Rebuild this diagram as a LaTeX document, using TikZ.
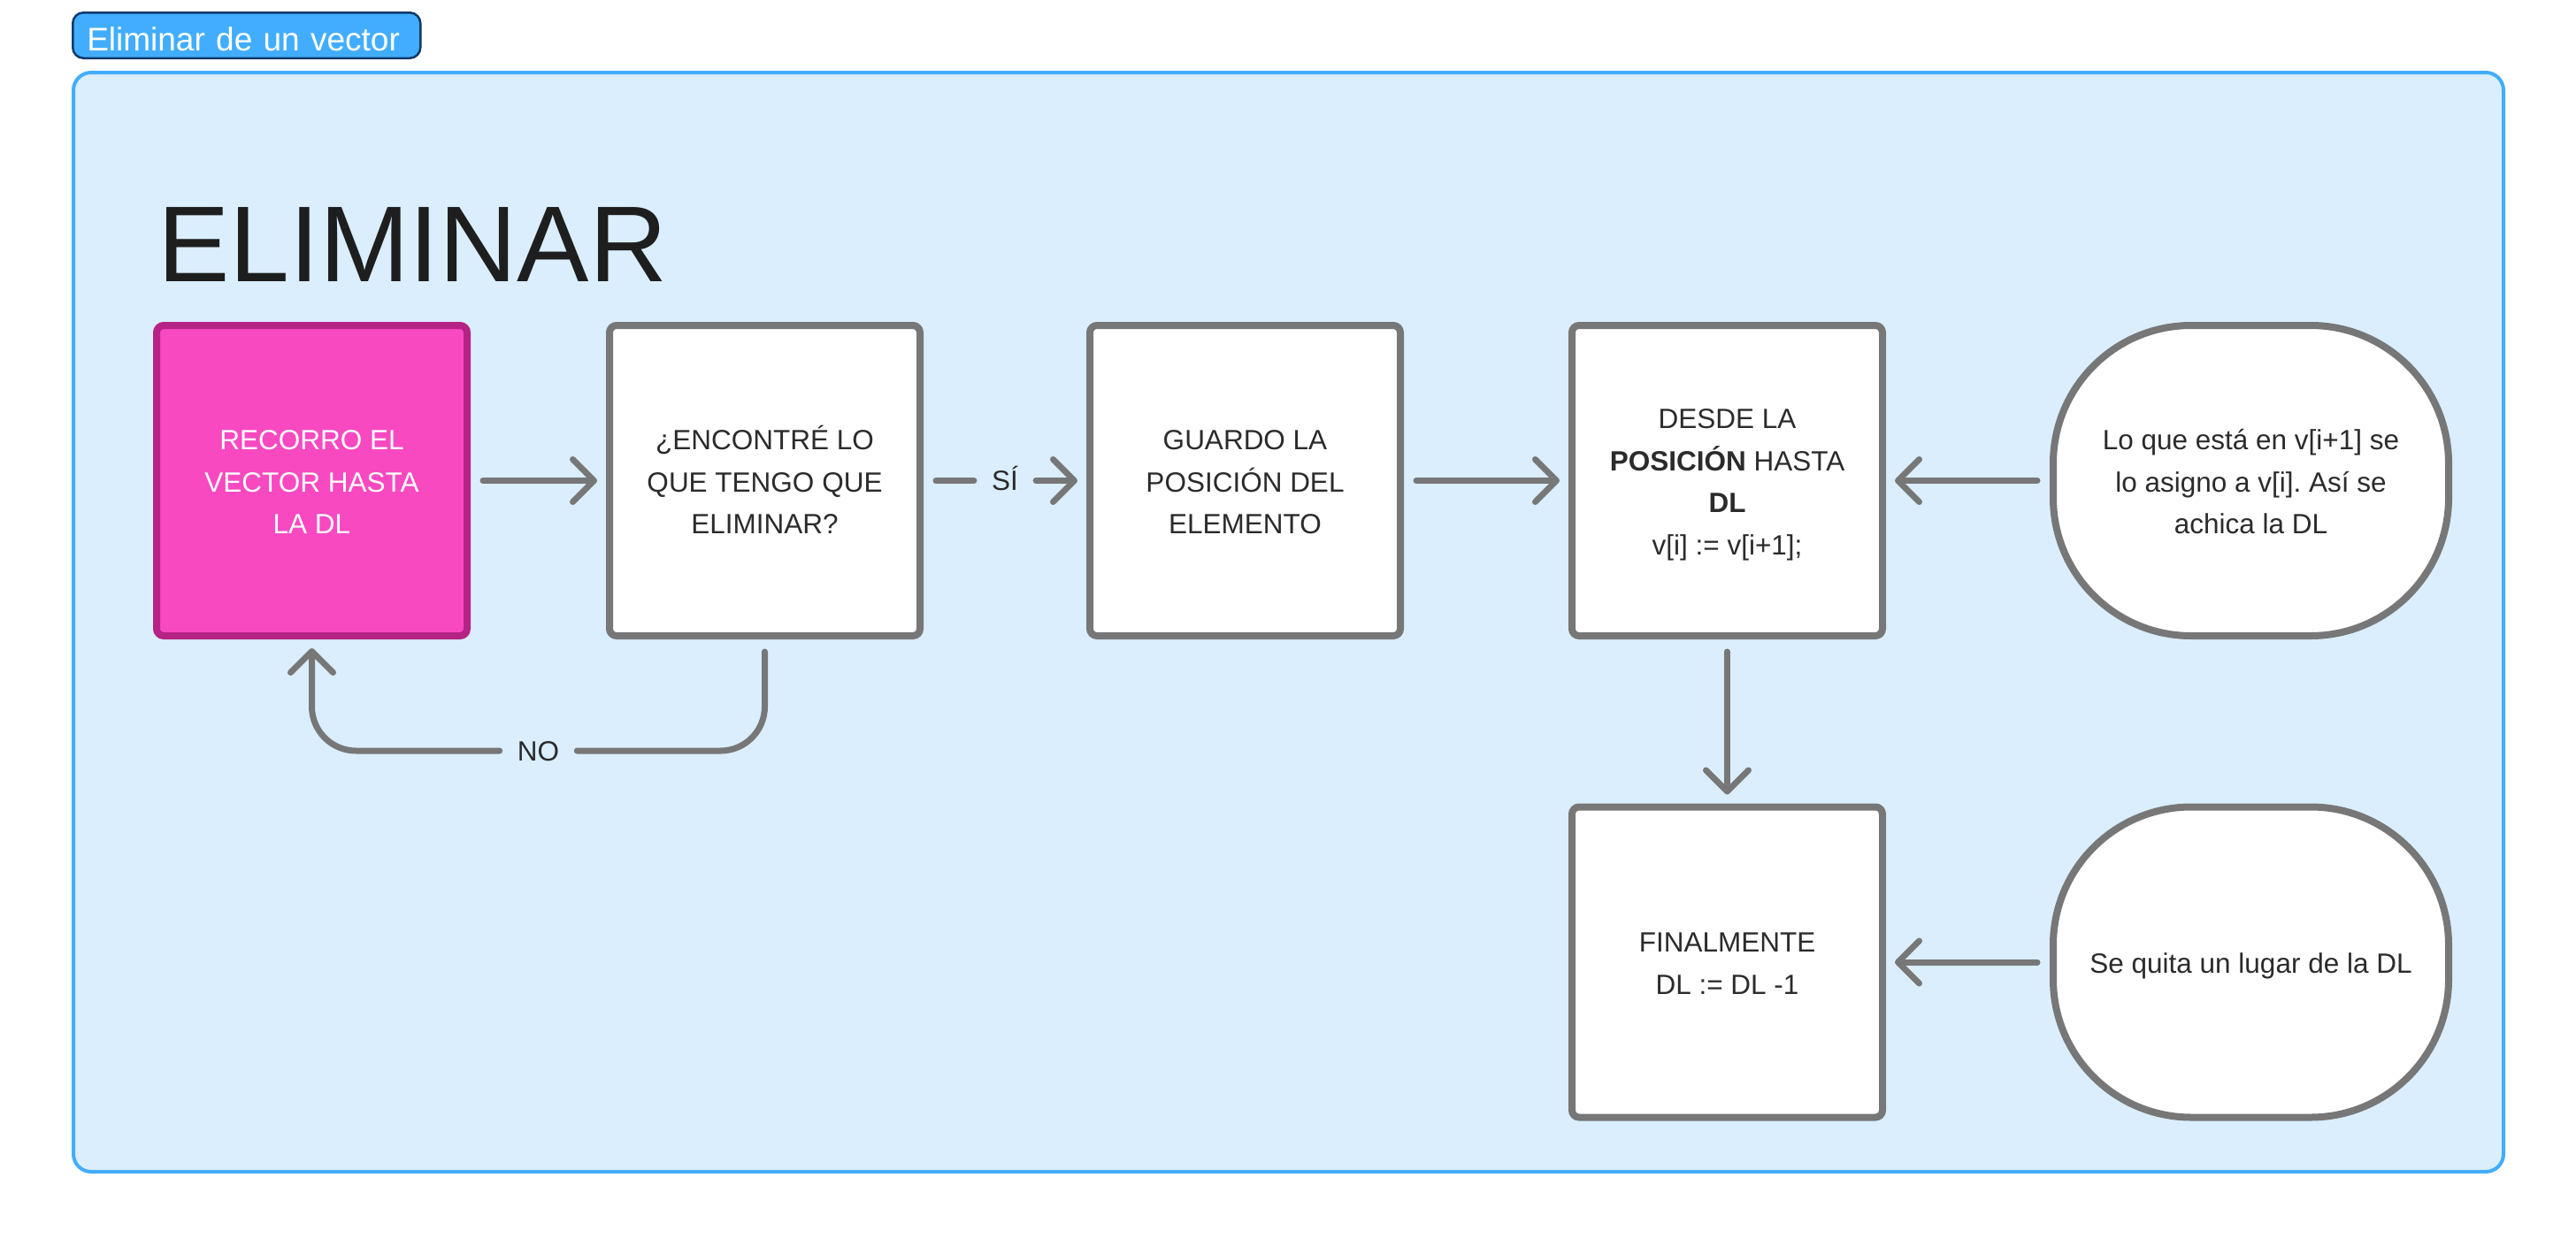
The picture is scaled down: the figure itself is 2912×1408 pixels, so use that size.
\documentclass[tikz,border=0pt]{standalone}
\usepackage{fontspec}
\setmainfont{Liberation Sans}
\frenchspacing
\usetikzlibrary{arrows.meta}
\definecolor{fondo}{HTML}{DAEEFD}
\definecolor{borde}{HTML}{42ADFF}
\definecolor{marino}{HTML}{0E3A6B}
\definecolor{gris}{HTML}{777777}
\definecolor{rosa}{HTML}{F849C1}
\definecolor{rosaborde}{HTML}{B52384}
\definecolor{tinta}{HTML}{2B2B2B}
\definecolor{negro}{HTML}{1E1E1E}
\newcommand{\puntal}{\rule[-7.5pt]{0pt}{40pt}}
\begin{document}
\begin{tikzpicture}[x=1pt, y=-1pt,
    caja/.style={draw=gris, fill=white, line width=8pt, rounded corners=8pt,
      minimum width=351pt, minimum height=351pt, inner sep=0pt, align=center,
      text=tinta, font=\fontsize{31.5}{47.5}\selectfont},
    rosada/.style={caja, draw=rosaborde, fill=rosa, text=white},
    pastilla/.style={caja, minimum width=447pt, rounded corners=156pt},
    flecha/.style={draw=gris, line width=7pt, line cap=round,
      -{Straight Barb[length=24pt, width=48pt, round]},
      shorten <=14pt, shorten >=10pt},
    etiqueta/.style={inner sep=0pt, text height=22.5pt, text depth=0pt,
      text=tinta, font=\fontsize{31.5}{38}\selectfont}]
      \useasboundingbox (0,0) rectangle (2912,1408);
      \fill[white] (0,0) rectangle (2912,1408);
      % marco
      \draw[draw=borde, fill=fondo, line width=4pt, rounded corners=20pt]
        (83,82) rectangle (2830,1325);
      \node[draw=marino, fill=borde, line width=2.5pt, rounded corners=12pt,
        anchor=north west, text width=361pt, inner xsep=16pt, inner ysep=0pt,
        minimum height=51.5pt, text height=34pt, text depth=0pt, align=left,
        text=white, font=\fontsize{37}{40}\selectfont]
        (pestana) at (81,13) {Eliminar de un vector};
      \node[anchor=base west, inner sep=0pt, text=negro,
        font=\fontsize{122}{122}\selectfont] (titulo) at (178,318) {ELIMINAR};
      % pasos
      \draw
        (352.5,543.5) node[rosada] (recorro) {\puntal RECORRO EL\\VECTOR HASTA\\LA DL\puntal}
        (864.5,543.5) node[caja] (encontre) {\puntal ¿ENCONTRÉ LO\\QUE TENGO QUE\\ELIMINAR?\puntal}
        (1407.5,543.5) node[caja] (guardo) {\puntal GUARDO LA\\POSICIÓN DEL\\ELEMENTO\puntal}
        (1952.5,543.5) node[caja] (desde) {\puntal DESDE LA\\\textbf{POSICIÓN} HASTA\\\textbf{DL}\\v[i] := v[i+1];\puntal}
        (2544.5,543.5) node[pastilla] (asigno) {\puntal Lo que está en v[i+1] se\\lo asigno a v[i]. Así se\\achica la DL\puntal}
        (1952.5,1088) node[caja] (final) {\puntal FINALMENTE\\DL := DL -1\puntal}
        (2544.5,1088) node[pastilla] (quita) {\puntal Se quita un lugar de la DL\puntal}
        (1136,543.5) node[etiqueta] (si) {SÍ}
        (608.5,849) node[etiqueta] (no) {NO};
      \begin{scope}[flecha]
        \draw (recorro) to (encontre);
        \draw[-, shorten >=20pt] (encontre) to (si);
        \draw[shorten <=20pt] (si) to (guardo);
        \draw (guardo) to (desde);
        \draw (asigno) to (desde);
        \draw (desde) to (final);
        \draw (quita) to (final);
        \draw[-, rounded corners=50pt, shorten >=20pt] (encontre.south) |- (no.east);
        \draw[rounded corners=50pt, shorten <=20pt] (no.west) -| (recorro.south);
      \end{scope}
    \end{tikzpicture}
\end{document}
